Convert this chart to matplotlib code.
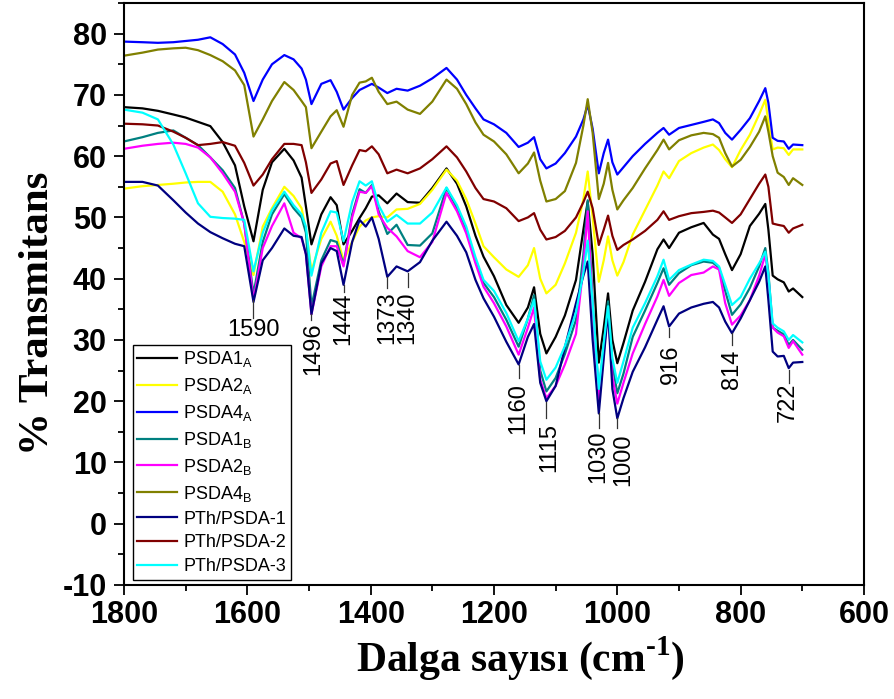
import matplotlib
matplotlib.use("Agg")
import matplotlib.pyplot as plt
from matplotlib.ticker import MultipleLocator

plt.rcParams["font.family"] = ["Liberation Sans", "DejaVu Sans"]
plt.rcParams["mathtext.fontset"] = "custom"
plt.rcParams["mathtext.rm"] = "Liberation Serif:bold"
plt.rcParams["axes.unicode_minus"] = False

# Wavenumber grid (cm^-1) shared by all spectra
wavenumber = [1800, 1770, 1745, 1720, 1700, 1680, 1660, 1640, 1620, 1605,
              1590, 1575, 1560, 1540, 1525, 1512, 1505, 1496, 1480, 1465,
              1455, 1444, 1430, 1418, 1408, 1398, 1387, 1373, 1358, 1340,
              1320, 1300, 1277, 1260, 1245, 1230, 1217, 1200, 1180, 1160,
              1145, 1135, 1125, 1115, 1100, 1085, 1067, 1055, 1048, 1040,
              1030, 1022, 1015, 1008, 1000, 990, 975, 955, 935, 925,
              916, 900, 880, 860, 845, 835, 825, 814, 800, 785,
              770, 760, 755, 748, 740, 730, 722, 715, 700]

psda1_a = [68.0, 67.8, 67.4, 66.8, 66.3, 65.6, 64.9, 62.3, 58.5, 51.8,
           46.1, 54.5, 59.0, 61.2, 59.3, 56.5, 51.8, 45.6, 50.5, 53.3,
           52.0, 45.6, 47.8, 49.9, 51.5, 53.4, 53.6, 52.3, 53.9, 52.5,
           52.4, 54.8, 58.0, 55.5, 51.8, 47.0, 43.6, 40.4, 35.7, 32.8,
           35.3, 38.6, 31.0, 27.8, 30.5, 34.0, 39.8, 48.0, 52.6, 44.0,
           26.3, 32.0, 37.6, 30.0, 26.2, 29.5, 34.8, 39.5, 44.8, 46.4,
           45.0, 47.5, 48.4, 49.1, 47.2, 46.5, 44.0, 41.4, 44.0, 48.6,
           50.6, 52.2, 48.0, 40.5, 39.9, 39.4, 37.9, 38.4, 37.0]

psda2_a = [54.7, 55.1, 55.3, 55.5, 55.7, 55.8, 55.8, 54.2, 50.5, 46.0,
           40.6, 48.5, 51.5, 55.0, 53.5, 51.5, 48.0, 41.3, 46.5, 49.3,
           47.0, 43.0, 46.0, 48.5, 49.5, 50.0, 50.2, 50.0, 51.3, 51.4,
           52.2, 54.5, 57.8, 56.0, 53.0, 49.0, 45.3, 43.5, 41.5, 40.3,
           42.2, 45.0, 40.0, 37.6, 39.0, 42.5, 47.5, 53.0, 57.5, 50.0,
           39.5, 43.0, 46.9, 43.0, 40.5, 42.7, 47.2, 51.2, 55.2, 57.5,
           56.4, 59.2, 60.5, 61.4, 61.9, 61.0, 59.5, 58.2, 61.0, 63.5,
           66.8, 69.2, 65.5, 61.1, 61.4, 61.3, 60.2, 61.1, 61.1]

psda4_a = [78.7, 78.6, 78.5, 78.6, 78.8, 79.0, 79.4, 78.3, 76.6, 73.6,
           69.0, 72.5, 75.0, 76.5, 75.8, 74.3, 72.5, 68.5, 71.8, 72.4,
           70.5, 67.6, 69.5, 70.8, 71.3, 71.8, 71.2, 70.3, 71.0, 70.7,
           71.5, 72.7, 74.4, 72.5, 70.0, 67.8, 66.0, 65.2, 63.8, 61.5,
           62.2, 63.1, 59.5, 58.0, 58.8, 60.5, 63.2, 66.0, 68.4, 64.5,
           57.2, 60.5, 62.7, 59.0, 57.0, 58.2, 60.0, 62.0, 63.8, 64.6,
           63.5, 64.6, 65.1, 65.6, 66.0, 65.4, 63.8, 62.7, 64.3, 66.2,
           69.0, 71.1, 68.7, 63.0, 62.5, 62.4, 61.2, 61.9, 61.8]

psda1_b = [62.4, 63.1, 63.8, 64.2, 63.0, 61.8, 59.8, 57.7, 54.8, 49.0,
           37.5, 46.0, 50.5, 53.8, 51.5, 50.0, 47.5, 35.5, 43.0, 46.3,
           46.0, 42.3, 50.5, 54.6, 54.0, 55.3, 51.0, 47.3, 48.8, 45.5,
           45.4, 47.4, 54.8, 51.5, 48.0, 43.0, 39.3, 37.0, 33.3, 28.9,
           33.5, 37.3, 25.0, 21.6, 23.8, 27.7, 33.3, 44.0, 52.8, 36.0,
           21.3, 29.0, 36.3, 26.0, 21.3, 24.5, 30.5, 34.8, 39.3, 41.7,
           39.0, 40.9, 42.2, 42.8, 42.6, 41.8, 38.0, 34.1, 35.8, 38.5,
           42.0, 45.0, 41.0, 32.0, 31.5, 30.9, 29.2, 30.0, 28.4]

psda2_b = [61.2, 61.7, 62.0, 62.2, 62.0, 61.4, 59.8, 57.2, 54.2, 49.0,
           36.5, 45.0, 48.6, 52.3, 47.5, 46.6, 44.0, 34.2, 42.0, 45.3,
           45.3, 42.0, 50.0, 54.2, 54.0, 55.1, 50.5, 48.3, 46.9, 44.5,
           43.5, 46.0, 54.0, 51.0, 47.4, 42.5, 38.7, 36.0, 32.2, 27.6,
           32.0, 35.3, 23.5, 20.5, 22.5, 26.0, 31.0, 42.0, 51.0, 35.0,
           19.8, 28.0, 35.0, 24.0, 19.6, 23.0, 27.8, 32.6, 37.1, 39.8,
           37.2, 39.3, 40.6, 41.0, 42.0, 41.5, 36.0, 32.5, 34.0, 36.5,
           40.5, 43.9, 40.0, 32.0, 31.2, 30.6, 28.7, 29.8, 27.6]

psda4_b = [76.4, 76.9, 77.4, 77.6, 77.7, 77.3, 76.5, 75.5, 74.0, 71.6,
           63.2, 66.0, 69.0, 72.1, 70.8, 69.0, 68.0, 61.3, 64.0, 66.5,
           67.5, 64.8, 70.0, 72.0, 72.2, 72.8, 70.5, 68.5, 68.9, 67.6,
           66.9, 68.9, 72.5, 71.0, 68.5, 65.5, 63.5, 62.4, 60.3, 57.2,
           58.8, 60.6, 56.0, 52.6, 53.0, 54.3, 58.9, 65.0, 69.3, 63.8,
           53.0, 55.5, 58.9, 54.5, 51.3, 52.8, 54.8, 58.0, 61.0, 62.7,
           61.1, 62.6, 63.4, 63.8, 63.6, 63.0, 60.5, 58.3, 59.4, 61.5,
           64.0, 66.5, 64.0, 60.0, 57.3, 56.6, 55.3, 56.4, 55.3]

pth_psda_1 = [55.8, 55.8, 55.2, 52.8, 50.8, 49.0, 47.6, 46.6, 45.7, 45.3,
              36.2, 43.0, 45.0, 48.2, 47.0, 46.8, 44.0, 34.2, 42.5, 45.0,
              44.5, 39.0, 46.0, 49.6, 48.5, 50.0, 46.5, 40.3, 42.0, 41.2,
              42.7, 46.2, 49.3, 47.0, 44.3, 39.8, 36.8, 33.8, 29.7, 26.0,
              30.5, 32.6, 23.0, 20.0, 22.5, 28.8, 36.0, 40.5, 42.8, 30.0,
              18.0, 27.0, 34.9, 22.0, 17.2, 20.5, 24.8, 28.8, 33.3, 35.5,
              32.2, 34.3, 35.3, 35.9, 36.2, 35.3, 33.0, 31.1, 33.5, 36.5,
              39.5, 42.0, 36.5, 28.1, 27.3, 27.4, 25.4, 26.3, 26.4]

pth_psda_2 = [65.3, 65.2, 65.0, 64.0, 63.0, 61.8, 62.0, 62.3, 61.7, 58.9,
              55.2, 57.0, 59.5, 62.0, 62.0, 61.8, 59.0, 54.0, 56.2, 58.8,
              59.2, 55.3, 58.5, 61.0, 60.8, 61.6, 60.3, 57.2, 57.8, 57.2,
              58.0, 59.5, 61.6, 59.8, 57.5, 54.8, 53.0, 52.6, 51.5, 49.4,
              50.0, 50.7, 48.0, 46.4, 46.8, 47.8, 50.0, 52.5, 54.2, 51.5,
              45.5, 48.0, 50.3, 47.0, 44.7, 45.5, 46.4, 47.8, 49.6, 51.0,
              49.6, 50.2, 50.7, 50.9, 51.1, 50.8, 50.0, 49.1, 50.5, 53.0,
              55.5, 57.0, 55.0, 49.0, 48.8, 48.6, 47.5, 48.2, 48.8]

pth_psda_3 = [67.6, 67.1, 66.0, 61.9, 57.2, 52.3, 50.1, 49.9, 49.8, 49.6,
              41.2, 47.5, 51.2, 54.2, 52.0, 50.5, 48.5, 40.5, 47.5, 51.0,
              50.8, 46.1, 52.5, 55.9, 55.2, 55.9, 52.0, 49.3, 50.4, 49.0,
              49.0, 50.8, 54.9, 52.0, 48.5, 43.5, 39.8, 38.0, 34.4, 29.8,
              33.5, 36.6, 26.5, 23.5, 25.5, 29.0, 34.5, 41.0, 46.2, 36.0,
              22.0, 29.5, 35.5, 27.0, 23.0, 26.5, 32.0, 36.0, 40.4, 43.1,
              39.8, 41.4, 42.3, 43.1, 42.9, 42.0, 39.0, 35.7, 37.0, 40.0,
              42.5, 44.4, 40.5, 32.7, 32.0, 31.4, 30.0, 30.8, 29.6]

series_labels = [r"PSDA1$_\mathregular{A}$", r"PSDA2$_\mathregular{A}$",
                 r"PSDA4$_\mathregular{A}$", r"PSDA1$_\mathregular{B}$",
                 r"PSDA2$_\mathregular{B}$", r"PSDA4$_\mathregular{B}$",
                 "PTh/PSDA-1", "PTh/PSDA-2", "PTh/PSDA-3"]
series_values = [psda1_a, psda2_a, psda4_a, psda1_b, psda2_b, psda4_b,
                 pth_psda_1, pth_psda_2, pth_psda_3]
series_colors = ["#000000", "#FFFF00", "#0000FF", "#008080", "#FF00FF",
                 "#808000", "#000080", "#800000", "#00FFFF"]

# Band assignments and their marker/label placement
band_labels = [1590, 1496, 1444, 1373, 1340, 1160, 1115, 1030, 1000, 916, 814, 722]
band_text_x = [1590, 1493, 1444, 1373, 1340, 1160, 1110, 1031, 991, 913, 814, 723]
band_line_top = [36.5, 34.3, 39.0, 40.3, 41.0, 25.9, 19.9, 18.1, 17.3, 32.0, 31.2, 25.1]
band_line_bottom = [33.6, 33.3, 37.9, 38.5, 38.7, 23.8, 17.3, 15.6, 15.6, 30.5, 29.2, 23.0]
band_text_top = [33.4, 32.8, 37.7, 37.9, 37.9, 23.0, 16.5, 15.3, 14.8, 29.2, 28.4, 23.0]

fig = plt.figure(figsize=(8.94, 6.99), dpi=100)
ax = fig.add_axes([0.1387, 0.1631, 0.8277, 0.8326])

for vals, lab, col in zip(series_values, series_labels, series_colors):
    ax.plot(wavenumber, vals, color=col, lw=1.6, label=lab,
            solid_joinstyle="round")

for wn, xt, y0, y1, yt in zip(band_labels, band_text_x, band_line_top,
                              band_line_bottom, band_text_top):
    ax.plot([wn, wn], [y0, y1], color="#333333", lw=0.9)
    if wn == 1590:
        ax.text(xt, yt, str(wn), ha="center", va="top", fontsize=17)
    else:
        ax.text(xt, yt, str(wn), ha="center", va="top", rotation=90, fontsize=17)

ax.set_xlim(1800, 600)
ax.set_ylim(-10, 85)
ax.xaxis.set_major_locator(MultipleLocator(200))
ax.xaxis.set_minor_locator(MultipleLocator(100))
ax.yaxis.set_major_locator(MultipleLocator(10))
ax.yaxis.set_minor_locator(MultipleLocator(5))
ax.tick_params(which="both", direction="out", top=False, right=False, width=1.3)
ax.tick_params(which="major", length=7.5)
ax.tick_params(which="minor", length=4)
ax.tick_params(axis="x", which="major", pad=3)
ax.tick_params(axis="y", which="major", pad=5)
for lbl in ax.get_xticklabels() + ax.get_yticklabels():
    lbl.set_fontsize(22)
    lbl.set_fontweight("bold")
for sp in ax.spines.values():
    sp.set_linewidth(1.5)

ax.set_xlabel(r"Dalga sayısı (cm$^{\text{-1}}$)", family="Liberation Serif",
              fontweight="bold", fontsize=30)
ax.set_ylabel("% Transmitans", family="Liberation Serif",
              fontweight="bold", fontsize=31)
ax.xaxis.set_label_coords(0.536, -0.125)
ax.xaxis.label.set_va("center")
ax.yaxis.set_label_coords(-0.116, 0.467)
ax.yaxis.label.set_va("center")

leg = ax.legend(loc="lower left", bbox_to_anchor=(0.012, 0.009), borderaxespad=0,
                fontsize=13, handlelength=2.2, handletextpad=0.35,
                labelspacing=0.38, borderpad=0.25, fancybox=False,
                edgecolor="black", framealpha=1)
leg.get_frame().set_linewidth(1.0)

fig.savefig("out.png", dpi=100)
